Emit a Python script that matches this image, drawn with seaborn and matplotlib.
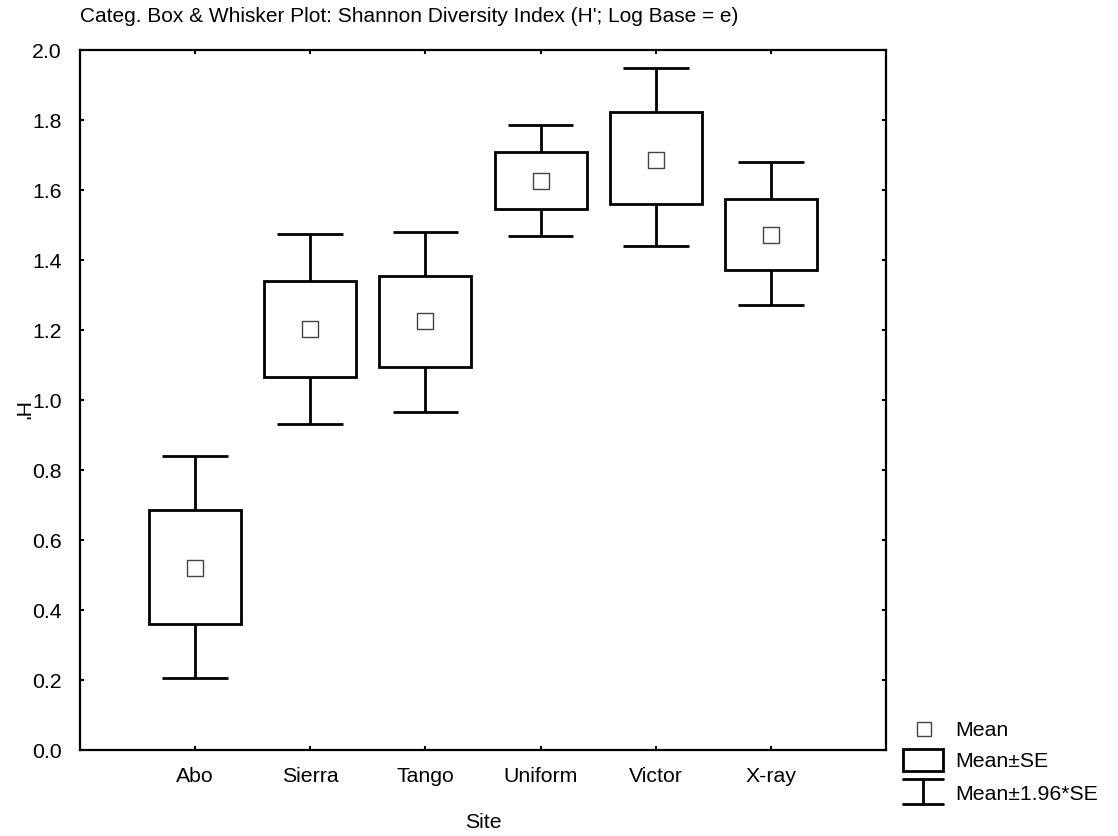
import numpy as np
import pandas as pd
import matplotlib
matplotlib.use("Agg")
import matplotlib.pyplot as plt
from matplotlib.lines import Line2D
from matplotlib.patches import Rectangle
import seaborn as sns

# ---- data ----
sites = ["Abo", "Sierra", "Tango", "Uniform", "Victor", "X-ray"]
means = [0.520, 1.202, 1.223, 1.625, 1.685, 1.470]
se_low = [0.359, 1.065, 1.093, 1.544, 1.559, 1.369]
se_high = [0.683, 1.339, 1.353, 1.706, 1.821, 1.572]
ci_low = [0.203, 0.931, 0.965, 1.466, 1.438, 1.269]
ci_high = [0.838, 1.474, 1.480, 1.785, 1.946, 1.679]
yticks = [0.0, 0.2, 0.4, 0.6, 0.8, 1.0, 1.2, 1.4, 1.6, 1.8, 2.0]

title = "Categ. Box & Whisker Plot: Shannon Diversity Index (H'; Log Base = e)"
xlabel = "Site"
ylabel = "H'"
legend_labels = ["Mean", "Mean\u00b1SE", "Mean\u00b11.96*SE"]

df = pd.DataFrame({"site": sites, "mean": means, "se_low": se_low, "se_high": se_high,
                   "ci_low": ci_low, "ci_high": ci_high})
df["pos"] = np.arange(len(sites))

sns.set_theme(style="white")
plt.rcParams["font.family"] = ["Liberation Sans", "DejaVu Sans"]
FS = 15.3

W, H = 1118, 837
fig = plt.figure(figsize=(W / 100, H / 100), dpi=100)
ax = fig.add_axes([80 / W, 1 - 750.5 / H, (886 - 80) / W, (750.5 - 50.5) / H])

LW = 2.0
# whiskers
ax.vlines(df["pos"], df["se_high"], df["ci_high"], color="black", lw=LW, zorder=2)
ax.vlines(df["pos"], df["ci_low"], df["se_low"], color="black", lw=LW, zorder=2)
capw = 0.57
ax.hlines(df["ci_high"], df["pos"] - capw / 2, df["pos"] + capw / 2, color="black", lw=LW, zorder=2)
ax.hlines(df["ci_low"], df["pos"] - capw / 2, df["pos"] + capw / 2, color="black", lw=LW, zorder=2)
# boxes
ax.bar(df["pos"], df["se_high"] - df["se_low"], bottom=df["se_low"], width=0.8,
       facecolor="white", edgecolor="black", linewidth=LW, zorder=3)
# means
sns.scatterplot(data=df, x="pos", y="mean", marker="s", s=120, facecolor="white",
                edgecolor="#444444", linewidth=1.0, ax=ax, zorder=4, legend=False)

ax.set_xlim(-1, len(sites))
ax.set_ylim(0, 2.0)
ax.set_xticks(df["pos"])
ax.set_xticklabels(sites, fontsize=FS)
ax.set_yticks(yticks)
ax.set_yticklabels([f"{v:.1f}" for v in yticks], fontsize=FS)
ax.set_xlabel("")
ax.set_ylabel("")
ax.tick_params(axis="both", direction="in", length=3, width=1.5, color="black",
               top=True, right=True, bottom=True, left=True, labelcolor="black")
ax.tick_params(axis="y", pad=13)
ax.tick_params(axis="x", pad=12)
for sp in ax.spines.values():
    sp.set_visible(True)
    sp.set_color("black")
    sp.set_linewidth(1.6)
ax.grid(False)
ax.set_facecolor("white")

fig.text(80 / W, 1 - 17 / H, title, fontsize=15.0, ha="left", va="center", color="black")
fig.text(483 / W, 1 - 823 / H, xlabel, fontsize=FS, ha="center", va="center", color="black")
fig.text(20 / W, 1 - 412 / H, ylabel, fontsize=FS, ha="center", va="center", rotation=-90,
         color="black")

# ---- legend drawn outside the axes ----
def fx(px):
    return px / W

def fy(py):
    return 1 - py / H

fig.add_artist(Line2D([fx(924)], [fy(730)], marker="s", markersize=10, markerfacecolor="white",
                      markeredgecolor="#444444", markeredgewidth=1.0, linestyle="none"))
fig.add_artist(Rectangle((fx(903), fy(772)), fx(943) - fx(903), fy(750) - fy(772),
                         facecolor="white", edgecolor="black", linewidth=LW, transform=fig.transFigure))
fig.add_artist(Line2D([fx(903), fx(943)], [fy(780), fy(780)], color="black", lw=LW))
fig.add_artist(Line2D([fx(923), fx(923)], [fy(780), fy(805)], color="black", lw=LW))
fig.add_artist(Line2D([fx(903), fx(943)], [fy(805), fy(805)], color="black", lw=LW))
fig.text(fx(955), fy(730), legend_labels[0], fontsize=FS, ha="left", va="center", color="black")
fig.text(fx(955), fy(762), legend_labels[1], fontsize=FS, ha="left", va="center", color="black")
fig.text(fx(955), fy(795), legend_labels[2], fontsize=FS, ha="left", va="center", color="black")

fig.savefig("out.png", dpi=100, facecolor="white")
